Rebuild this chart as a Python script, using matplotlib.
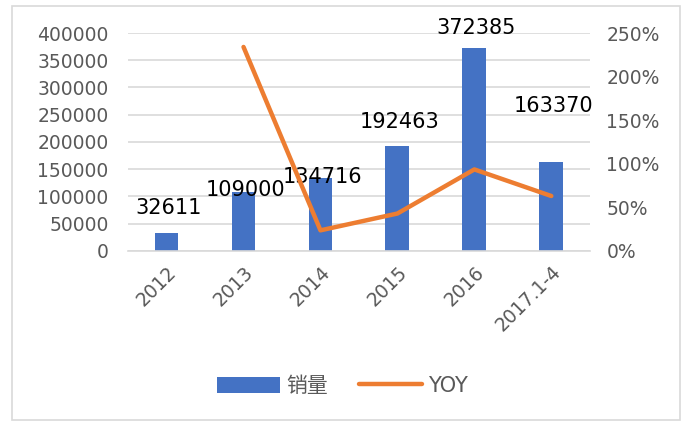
import matplotlib.pyplot as plt
from matplotlib.patches import Rectangle
from matplotlib.ticker import FuncFormatter, MultipleLocator

plt.rcParams['font.family'] = ['DejaVu Sans', 'Noto Sans CJK SC']

years = ['2012', '2013', '2014', '2015', '2016', '2017.1-4']
sales = [32611, 109000, 134716, 192463, 372385, 163370]
yoy = [None, 2.34, 0.236, 0.429, 0.935, 0.63]
# label nudges in pixels (labels were dragged by hand in the original)
label_dy = [25, 2, 1, 24, 20, 56]

blue = '#4472C4'
orange = '#ED7D31'
grey = '#595959'

fig = plt.figure(figsize=(6.85, 4.26), dpi=100)
fig.patches.append(Rectangle((12 / 685, 6 / 426), 668 / 685, 414 / 426,
                             transform=fig.transFigure, fill=False,
                             edgecolor='#D9D9D9', linewidth=1.2))

ax = fig.add_axes([0.187, 0.411, 0.674, 0.5115])
x = list(range(len(years)))
bars = ax.bar(x, sales, width=0.31, color=blue, label='销量', zorder=2)
ax.set_ylim(0, 400000)
ax.set_xlim(-0.5, len(years) - 0.5)
ax.yaxis.set_major_locator(MultipleLocator(50000))
ax.grid(axis='y', color='#D9D9D9', linewidth=1.2, zorder=0)
for s in ['top', 'right', 'left']:
    ax.spines[s].set_visible(False)
ax.spines['bottom'].set_color('#D9D9D9')
ax.spines['bottom'].set_linewidth(1.2)
ax.tick_params(axis='y', length=0, colors=grey, labelsize=13.5, pad=14)
ax.tick_params(axis='x', length=0, colors=grey, labelsize=13.5)
ax.set_xticks(x)
ax.set_xticklabels(years, rotation=45, ha='right', rotation_mode='anchor')
for lab in ax.get_xticklabels():
    lab.set_y(-0.03)

for i, v in enumerate(sales):
    ax.annotate(str(v), (x[i], v), xytext=(2, label_dy[i]),
                textcoords='offset pixels', ha='center', va='center',
                fontsize=15, color='black', zorder=5)

ax2 = ax.twinx()
ax2.plot(x[1:], yoy[1:], color=orange, linewidth=3.2, label='YOY',
         solid_capstyle='round')
ax2.set_ylim(0, 2.5)
ax2.yaxis.set_major_locator(MultipleLocator(0.5))
ax2.yaxis.set_major_formatter(FuncFormatter(lambda v, p: '%d%%' % round(v * 100)))
for s in ax2.spines.values():
    s.set_visible(False)
ax2.tick_params(length=0, colors=grey, labelsize=13.5, pad=12)

h1, l1 = ax.get_legend_handles_labels()
h2, l2 = ax2.get_legend_handles_labels()
fig.legend(h1 + h2, l1 + l2, loc='center', bbox_to_anchor=(0.5, 0.094),
           ncol=2, frameon=False, fontsize=15, labelcolor=grey,
           handlelength=3.0, handleheight=0.8, columnspacing=1.5,
           handletextpad=0.3)

fig.savefig('out.png', dpi=100)
